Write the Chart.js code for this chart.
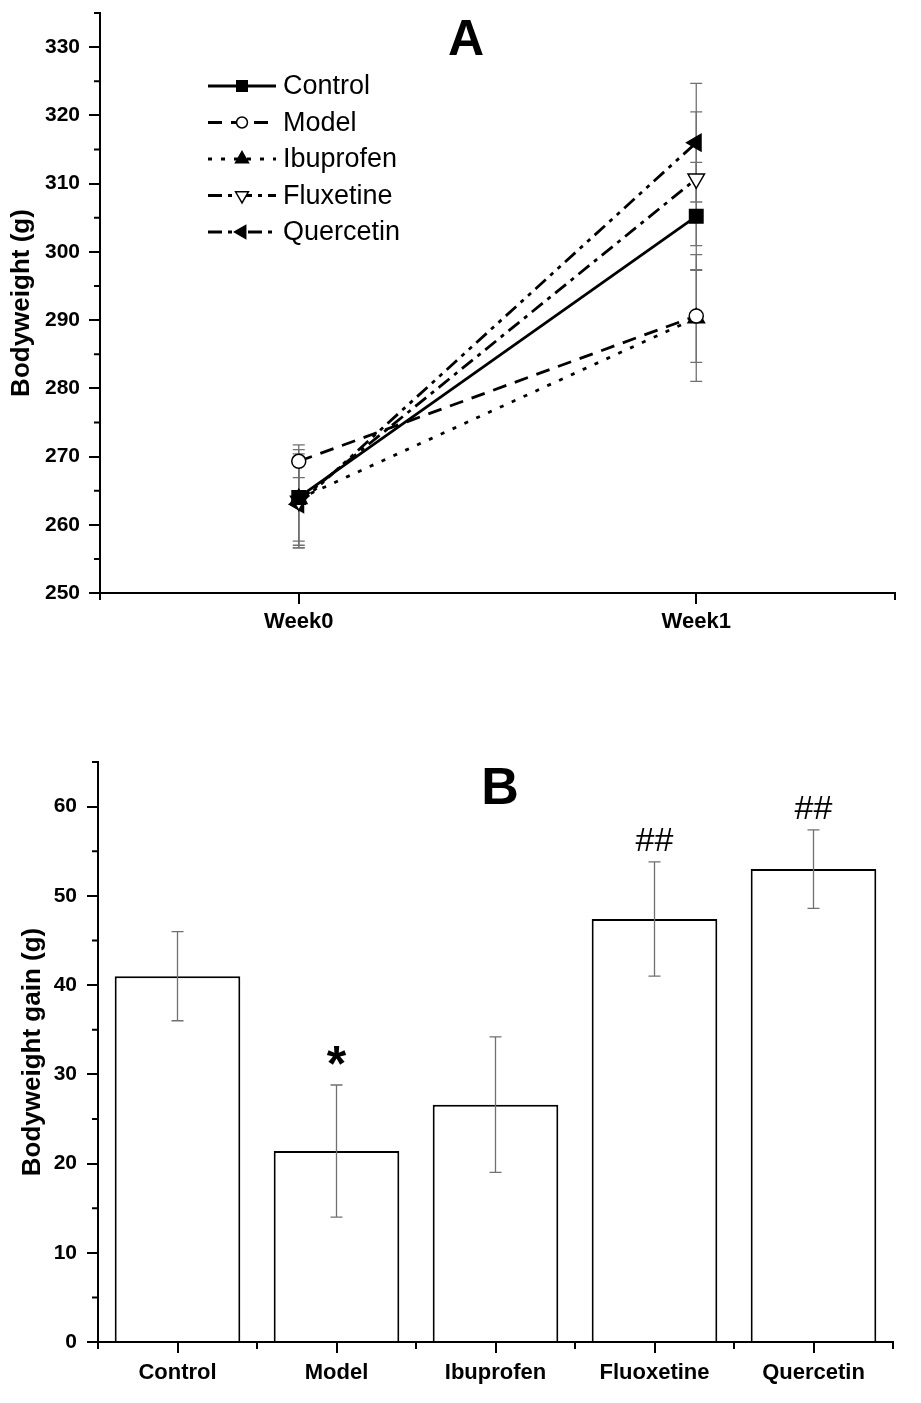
<!DOCTYPE html>
<html><head><meta charset="utf-8">
<script src="https://cdn.jsdelivr.net/npm/chart.js@4.4.1/dist/chart.umd.min.js"></script>
<style>
html,body{margin:0;padding:0;background:#fff;}
body{width:921px;height:1403px;position:relative;overflow:hidden;}
canvas{position:absolute;left:0;}
#cA{top:0;}
#cB{top:700px;}
</style></head><body>
<canvas id="cA" width="921" height="660"></canvas>
<canvas id="cB" width="921" height="703"></canvas>
<script>
// ---- Panel A data ----
const weekLabels = ['Week0', 'Week1'];
const controlBW = [264.0, 305.2];
const modelBW = [269.3, 290.6];
const ibuprofenBW = [263.8, 290.3];
const fluxetineBW = [263.5, 310.7];
const quercetinBW = [263.0, 316.0];
const controlSem = [6.4, 7.9];
const modelSem = [2.4, 6.8];
const ibuprofenSem = [7.2, 9.3];
const fluxetineSem = [6.5, 9.8];
const quercetinSem = [6.4, 8.7];
const yTicksA = [250, 260, 270, 280, 290, 300, 310, 320, 330];
const yMinorA = [255, 265, 275, 285, 295, 305, 315, 325, 335];

// ---- Panel B data ----
const barLabels = ['Control', 'Model', 'Ibuprofen', 'Fluoxetine', 'Quercetin'];
const gainValues = [41.0, 21.4, 26.6, 47.4, 53.0];
const gainSem = [5.0, 7.4, 7.6, 6.4, 4.4];
const gainMarks = ['', '*', '', '##', '##'];
const yTicksB = [0, 10, 20, 30, 40, 50, 60];
const yMinorB = [5, 15, 25, 35, 45, 55, 65];

const FONT = "'Liberation Sans', Arial, sans-serif";
Chart.defaults.font.family = FONT;
Chart.defaults.color = '#000';

function mkSet(label, data, sem, dash, style, radius, rot, filled) {
  return {
    label: label, data: data, sem: sem,
    borderColor: '#000', borderWidth: 2.8, borderDash: dash, tension: 0,
    pointStyle: style, pointRadius: radius, pointRotation: rot,
    pointBackgroundColor: filled ? '#000' : '#fff', pointBorderColor: '#000',
    pointBorderWidth: 1.5, fill: false
  };
}

const axisGrid = {display: true, drawOnChartArea: false, color: '#000', lineWidth: 2, tickLength: 11};
const axisBorder = {display: true, color: '#000', width: 2};

const errA = {
  id: 'errA',
  beforeDatasetsDraw(chart) {
    const {ctx, scales: {x, y}} = chart;
    ctx.save();
    ctx.strokeStyle = '#707070';
    ctx.lineWidth = 1.3;
    chart.data.datasets.forEach(ds => {
      ds.data.forEach((v, i) => {
        const px = x.getPixelForValue(i);
        const t = y.getPixelForValue(v + ds.sem[i]);
        const b = y.getPixelForValue(v - ds.sem[i]);
        ctx.beginPath();
        ctx.moveTo(px, t); ctx.lineTo(px, b);
        ctx.moveTo(px - 6, t); ctx.lineTo(px + 6, t);
        ctx.moveTo(px - 6, b); ctx.lineTo(px + 6, b);
        ctx.stroke();
      });
    });
    ctx.restore();
  }
};

const decoA = {
  id: 'decoA',
  afterDraw(chart) {
    const {ctx, chartArea: a, scales: {y}} = chart;
    ctx.save();
    ctx.strokeStyle = '#000';
    ctx.lineWidth = 2;
    ctx.beginPath();
    yMinorA.forEach(v => {
      const py = y.getPixelForValue(v);
      ctx.moveTo(a.left - 6, py); ctx.lineTo(a.left, py);
    });
    [a.left, a.right].forEach(px => { ctx.moveTo(px, a.bottom); ctx.lineTo(px, a.bottom + 7); });
    ctx.stroke();
    // legend
    chart.data.datasets.forEach((ds, i) => {
      const yy = 86 + i * 36.5;
      ctx.strokeStyle = '#000';
      ctx.lineWidth = 2.8;
      ctx.setLineDash(ds.borderDash);
      ctx.beginPath(); ctx.moveTo(208, yy); ctx.lineTo(276, yy); ctx.stroke();
      ctx.setLineDash([]);
      ctx.fillStyle = ds.pointBackgroundColor;
      ctx.lineWidth = 1.5;
      Chart.helpers.drawPoint(ctx, {pointStyle: ds.pointStyle, radius: ds.pointRadius * 0.78, rotation: ds.pointRotation, borderWidth: 1.5}, 242, yy);
      ctx.fillStyle = '#000';
      ctx.font = '27px ' + FONT;
      ctx.textAlign = 'left';
      ctx.textBaseline = 'middle';
      ctx.fillText(ds.label, 283, yy + 1);
    });
    ctx.font = 'bold 50px ' + FONT;
    ctx.textAlign = 'center';
    ctx.textBaseline = 'alphabetic';
    ctx.fillText('A', 466, 55);
    ctx.restore();
  }
};

new Chart(document.getElementById('cA'), {
  type: 'line',
  data: {
    labels: weekLabels,
    datasets: [
      mkSet('Control', controlBW, controlSem, [], 'rect', 9.5, 0, true),
      mkSet('Model', modelBW, modelSem, [14, 9], 'circle', 7, 0, false),
      mkSet('Ibuprofen', ibuprofenBW, ibuprofenSem, [4, 9], 'triangle', 9.5, 0, true),
      mkSet('Fluxetine', fluxetineBW, fluxetineSem, [14, 6, 4, 6], 'triangle', 9.5, 180, false),
      mkSet('Quercetin', quercetinBW, quercetinSem, [14, 6, 4, 6, 4, 6], 'triangle', 9.5, 270, true)
    ]
  },
  options: {
    responsive: false, animation: false, events: [],
    layout: {padding: {top: 13, right: 26, left: 0, bottom: 0}},
    plugins: {legend: {display: false}, tooltip: {enabled: false}},
    scales: {
      x: {
        type: 'category', offset: true,
        grid: Object.assign({}, axisGrid, {offset: false}),
        border: axisBorder,
        ticks: {font: {size: 22, weight: 'bold'}, color: '#000', padding: 5, maxRotation: 0},
        afterFit(s) { s.height = 67; s.paddingLeft = 0; s.paddingRight = 0; }
      },
      y: {
        type: 'linear', min: 250, max: 335,
        afterBuildTicks(s) { s.ticks = yTicksA.map(v => ({value: v})); },
        grid: axisGrid, border: axisBorder,
        ticks: {font: {size: 21, weight: 'bold'}, color: '#000', padding: 9},
        title: {display: true, text: 'Bodyweight (g)', color: '#000', font: {size: 26, weight: 'bold'}, padding: {top: 6, bottom: 0}},
        afterFit(s) { s.width = 100; s.paddingTop = 0; s.paddingBottom = 0; }
      }
    }
  },
  plugins: [errA, decoA]
});

const decoB = {
  id: 'decoB',
  afterDatasetsDraw(chart) {
    const {ctx, scales: {x, y}} = chart;
    ctx.save();
    ctx.strokeStyle = '#707070';
    ctx.lineWidth = 1.3;
    gainValues.forEach((v, i) => {
      const px = x.getPixelForValue(i);
      const t = y.getPixelForValue(v + gainSem[i]);
      const b = y.getPixelForValue(v - gainSem[i]);
      ctx.beginPath();
      ctx.moveTo(px, t); ctx.lineTo(px, b);
      ctx.moveTo(px - 6, t); ctx.lineTo(px + 6, t);
      ctx.moveTo(px - 6, b); ctx.lineTo(px + 6, b);
      ctx.stroke();
    });
    ctx.fillStyle = '#000';
    ctx.textAlign = 'center';
    ctx.textBaseline = 'alphabetic';
    gainMarks.forEach((m, i) => {
      if (!m) return;
      const px = x.getPixelForValue(i);
      const t = y.getPixelForValue(gainValues[i] + gainSem[i]);
      if (m === '*') {
        ctx.font = 'bold 50px ' + FONT;
        ctx.fillText(m, px, t - 4);
      } else {
        ctx.font = '34px ' + FONT;
        ctx.fillText(m, px, t - 11);
      }
    });
    ctx.restore();
  },
  afterDraw(chart) {
    const {ctx, chartArea: a, scales: {x, y}} = chart;
    ctx.save();
    ctx.strokeStyle = '#000';
    ctx.lineWidth = 2;
    ctx.beginPath();
    yMinorB.forEach(v => {
      const py = y.getPixelForValue(v);
      ctx.moveTo(a.left - 6, py); ctx.lineTo(a.left, py);
    });
    const bx = [a.left, a.right];
    for (let i = 0; i < barLabels.length - 1; i++) bx.push((x.getPixelForValue(i) + x.getPixelForValue(i + 1)) / 2);
    bx.forEach(px => { ctx.moveTo(px, a.bottom); ctx.lineTo(px, a.bottom + 7); });
    ctx.stroke();
    ctx.fillStyle = '#000';
    ctx.font = 'bold 52px ' + FONT;
    ctx.textAlign = 'center';
    ctx.fillText('B', 500, 104);
    ctx.restore();
  }
};

new Chart(document.getElementById('cB'), {
  type: 'bar',
  data: {
    labels: barLabels,
    datasets: [{data: gainValues, backgroundColor: '#fff', borderColor: '#000', borderWidth: 2, barPercentage: 0.79, categoryPercentage: 1}]
  },
  options: {
    responsive: false, animation: false, events: [],
    layout: {padding: {top: 62, right: 28, left: 0, bottom: 0}},
    plugins: {legend: {display: false}, tooltip: {enabled: false}},
    scales: {
      x: {
        type: 'category', offset: true,
        grid: Object.assign({}, axisGrid, {offset: false}),
        border: axisBorder,
        ticks: {font: {size: 22, weight: 'bold'}, color: '#000', padding: 7, maxRotation: 0},
        afterFit(s) { s.height = 61; }
      },
      y: {
        type: 'linear', min: 0, max: 65,
        afterBuildTicks(s) { s.ticks = yTicksB.map(v => ({value: v})); },
        grid: axisGrid, border: axisBorder,
        ticks: {font: {size: 21, weight: 'bold'}, color: '#000', padding: 10},
        title: {display: true, text: 'Bodyweight gain (g)', color: '#000', font: {size: 26, weight: 'bold'}, padding: {top: 17, bottom: 0}},
        afterFit(s) { s.width = 98; }
      }
    }
  },
  plugins: [decoB]
});
</script>
</body></html>
